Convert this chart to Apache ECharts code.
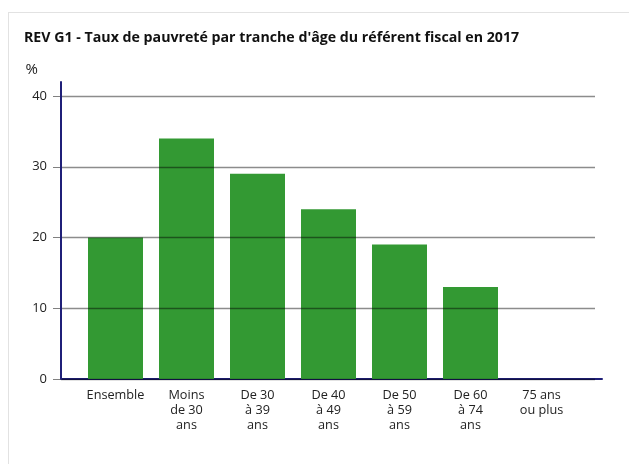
<!DOCTYPE html>
<html>
<head>
<meta charset="utf-8">
<script src="https://cdn.jsdelivr.net/npm/echarts@6/dist/echarts.min.js"></script>
<style>
  html, body { margin: 0; padding: 0; background: #fff; }
  #frame { position: absolute; left: 8px; top: 12px; width: 700px; height: 500px; border: 1px solid #e2e2e2; box-sizing: border-box; }
  #chart { position: absolute; left: 0; top: 0; width: 629px; height: 464px; }
</style>
</head>
<body>
<div id="frame"></div>
<div id="chart"></div>
<script>
const titleText = "REV G1 - Taux de pauvreté par tranche d'âge du référent fiscal en 2017";
const unitLabel = "%";
const categories = ["Ensemble", "Moins\nde 30\nans", "De 30\nà 39\nans", "De 40\nà 49\nans", "De 50\nà 59\nans", "De 60\nà 74\nans", "75 ans\nou plus"];
const povertyRate = [20, 34, 29, 24, 19, 13, null];
const yTicks = [0, 10, 20, 30, 40];

const font = "'Open Sans', 'Noto Sans', sans-serif";
const chart = echarts.init(document.getElementById('chart'), null, { renderer: 'canvas' });

chart.setOption({
  animation: false,
  backgroundColor: 'transparent',
  title: {
    text: titleText,
    left: 19, top: 26,
    textStyle: { fontFamily: font, fontWeight: 'bold', fontSize: 14.2, color: '#111' }
  },
  grid: [
    { left: 80, right: 52, top: 96, bottom: 85 },
    { left: 61, right: 34, top: 96, bottom: 85 },
    { left: 61, right: 27, top: 82, bottom: 85 }
  ],
  xAxis: [
    {
      gridIndex: 0, type: 'category', data: categories,
      axisLine: { show: false }, axisTick: { show: false },
      axisLabel: { fontFamily: font, fontSize: 12.7, color: '#222', lineHeight: 15, margin: 9, interval: 0 }
    },
    { gridIndex: 1, type: 'value', min: 0, max: 1, show: false },
    {
      gridIndex: 2, type: 'value', min: 0, max: 1,
      axisLine: { show: true, lineStyle: { color: '#1f1f78', width: 2 } },
      axisTick: { show: false }, axisLabel: { show: false }, splitLine: { show: false }
    }
  ],
  yAxis: [
    { gridIndex: 0, type: 'value', min: 0, max: 40, show: false },
    {
      gridIndex: 1, type: 'value', min: 0, max: 40, interval: 10, z: 5,
      name: unitLabel, nameLocation: 'end', nameGap: 19,
      nameTextStyle: { fontFamily: font, fontSize: 15, color: '#222', align: 'right', padding: [0, 23, 0, 0] },
      axisLine: { show: false },
      axisTick: { show: true, length: 8, lineStyle: { color: '#808080' } },
      axisLabel: {
        fontFamily: font, fontSize: 13, color: '#222', margin: 14,
        formatter: v => yTicks.includes(v) ? String(v) : ''
      },
      splitLine: { show: true, lineStyle: { color: 'rgba(0,0,0,0.45)', width: 1.3 } }
    },
    {
      gridIndex: 2, type: 'value', min: 0, max: 1, z: 6,
      axisLine: { show: true, lineStyle: { color: '#1f1f78', width: 2 } },
      axisTick: { show: false }, axisLabel: { show: false }, splitLine: { show: false }
    }
  ],
  series: [
    {
      type: 'bar', xAxisIndex: 0, yAxisIndex: 0,
      data: povertyRate, barWidth: 55,
      itemStyle: { color: '#339933' }, z: 2
    }
  ]
});
</script>
</body>
</html>
